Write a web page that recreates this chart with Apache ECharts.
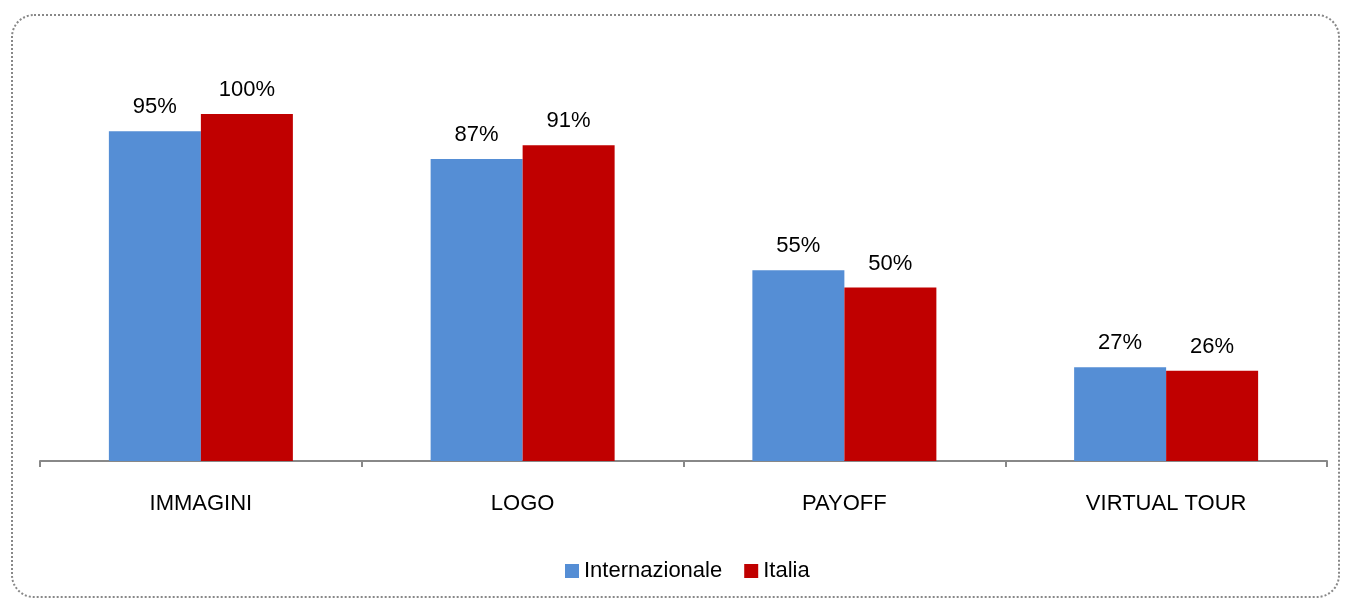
<!DOCTYPE html>
<html>
<head>
<meta charset="utf-8">
<script src="https://cdn.jsdelivr.net/npm/echarts@6/dist/echarts.min.js"></script>
<style>
html,body{margin:0;padding:0;background:#fff;}
#chart{width:1345px;height:601px;}
</style>
</head>
<body>
<div id="chart"></div>
<script>
const categories = ['IMMAGINI', 'LOGO', 'PAYOFF', 'VIRTUAL TOUR'];
const internazionale = [95, 87, 55, 27];
const italia = [100, 91, 50, 26];
const seriesNames = ['Internazionale', 'Italia'];

const chart = echarts.init(document.getElementById('chart'));
const labelStyle = {
  show: true,
  position: 'top',
  distance: 13,
  formatter: '{c}%',
  color: '#000',
  fontFamily: 'Liberation Sans, Arial, sans-serif',
  fontSize: 22
};
chart.setOption({
  animation: false,
  backgroundColor: '#fff',
  graphic: [{
    type: 'rect',
    shape: {x: 12, y: 15, width: 1327, height: 582, r: 22},
    style: {fill: 'none', stroke: '#888', lineWidth: 2, lineDash: [2, 2]},
    silent: true
  }],
  grid: {left: 40, right: 18, top: 114, bottom: 140},
  legend: {
    data: seriesNames,
    top: 555,
    left: 560,
    icon: 'rect',
    itemWidth: 14,
    itemHeight: 14,
    itemGap: 22,
    textStyle: {fontFamily: 'Liberation Sans, Arial, sans-serif', fontSize: 22, color: '#000'}
  },
  xAxis: {
    type: 'category',
    data: categories,
    axisLine: {lineStyle: {color: '#888', width: 2}},
    axisTick: {show: true, length: 6, lineStyle: {color: '#888', width: 2}},
    axisLabel: {margin: 32, color: '#000', fontFamily: 'Liberation Sans, Arial, sans-serif', fontSize: 22}
  },
  yAxis: {
    type: 'value', min: 0, max: 100, show: false,
    splitLine: {show: false}
  },
  series: [
    {name: seriesNames[0], type: 'bar', data: internazionale, barWidth: 92, barGap: '0%',
     itemStyle: {color: '#558ED5'}, label: labelStyle},
    {name: seriesNames[1], type: 'bar', data: italia, barWidth: 92, barGap: '0%',
     itemStyle: {color: '#C00000'}, label: labelStyle}
  ]
});
</script>
</body>
</html>
